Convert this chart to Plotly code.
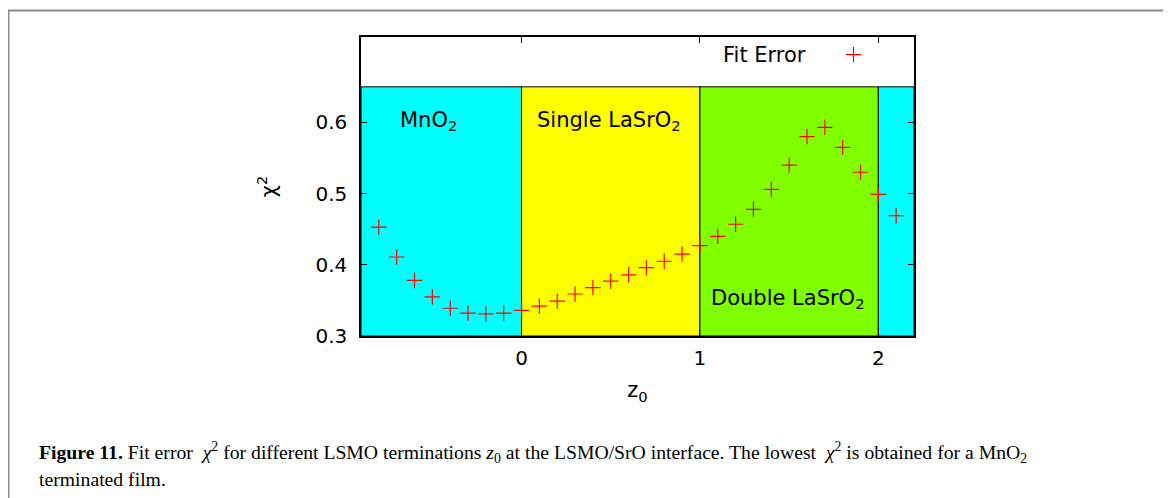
import plotly.graph_objects as go

# ---- data ----
z0 = [-0.8, -0.7, -0.6, -0.5, -0.4, -0.3, -0.2, -0.1, 0.0, 0.1, 0.2, 0.3, 0.4, 0.5, 0.6,
      0.7, 0.8, 0.9, 1.0, 1.1, 1.2, 1.3, 1.4, 1.5, 1.6, 1.7, 1.8, 1.9, 2.0, 2.1]
chi2 = [0.453, 0.411, 0.378, 0.355, 0.339, 0.332, 0.331, 0.332, 0.336, 0.342, 0.349,
        0.359, 0.368, 0.377, 0.386, 0.396, 0.405, 0.415, 0.427, 0.440, 0.457, 0.478,
        0.506, 0.540, 0.580, 0.593, 0.565, 0.530, 0.499, 0.469]

region_edges = [-0.9, 0.0, 1.0, 2.0, 2.2]
region_colors = ["#00FFFF", "#FFFF00", "#7FFF00", "#00FFFF"]
region_top = 0.65

x_ticks = [0, 1, 2]
y_ticks = [0.3, 0.4, 0.5, 0.6]

SANS = "DejaVu Sans, Liberation Sans, Arial, sans-serif"
SERIF = "Liberation Serif, Times New Roman, serif"

# page geometry (browser body has an 8px margin)
OFF = 8
W, H = 1171 - OFF, 498 - OFF
L, T = 361 - OFF, 37 - OFF
R = W - (914 - OFF)
B = H - (336 - OFF)
pw, ph = W - L - R, H - T - B
def px(x): return (x - OFF - L) / pw
def py(y): return (H - B - (y - OFF)) / ph

fig = go.Figure()
fig.add_trace(go.Scatter(
    x=z0, y=chi2, mode="markers", name=" ",
    marker=dict(symbol="cross-thin", size=11, color="red",
                line=dict(width=1.2, color="red")),
    showlegend=True,
))

shapes = []
for i, c in enumerate(region_colors):
    shapes.append(dict(type="rect", xref="x", yref="y",
                       x0=region_edges[i], x1=region_edges[i + 1],
                       y0=0.3, y1=region_top, fillcolor=c,
                       line=dict(color="black", width=1), layer="below"))

# outer journal box
shapes.append(dict(type="rect", xref="paper", yref="paper",
                   x0=px(8.5), x1=px(1165), y0=py(540), y1=py(10.5),
                   line=dict(color="#8a8a8a", width=2), fillcolor="rgba(0,0,0,0)",
                   layer="above"))

lab_font = dict(family=SANS, size=21, color="black")
annotations = [
    dict(x=-0.69, y=0.602, xref="x", yref="y", text="MnO<sub>2</sub>", showarrow=False,
         xanchor="left", yanchor="middle", font=lab_font),
    dict(x=0.073, y=0.602, xref="x", yref="y", text="Single LaSrO<sub>2</sub>", showarrow=False,
         xanchor="left", yanchor="middle", font=lab_font),
    dict(x=1.052, y=0.352, xref="x", yref="y", text="Double LaSrO<sub>2</sub>", showarrow=False,
         xanchor="left", yanchor="middle", font=lab_font),
    dict(x=px(37), y=py(452), xref="paper", yref="paper", xanchor="left", yanchor="middle",
         showarrow=False, align="left",
         text="<b>Figure 11.</b> Fit error  <i>χ</i><sup>2</sup> for different LSMO terminations "
              "<i>z</i><sub>0</sub> at the LSMO/SrO interface. The lowest  <i>χ</i><sup>2</sup> "
              "is obtained for a MnO<sub>2</sub>",
         font=dict(family=SERIF, size=19.7, color="black")),
    dict(x=px(37), y=py(479), xref="paper", yref="paper", xanchor="left", yanchor="middle",
         showarrow=False, align="left", text="terminated film.",
         font=dict(family=SERIF, size=19.7, color="black")),
]

fig.update_layout(
    width=W, height=H,
    margin=dict(l=L, r=R, t=T, b=B),
    paper_bgcolor="white", plot_bgcolor="white",
    shapes=shapes, annotations=annotations,
    font=dict(family=SANS, size=20, color="black"),
    legend=dict(x=px(721), y=py(55), xanchor="left", yanchor="middle",
                bgcolor="rgba(0,0,0,0)", borderwidth=0,
                title=dict(text="Fit Error\u00a0\u00a0\u00a0", side="left",
                           font=dict(family=SANS, size=21)),
                font=dict(family=SANS, size=21), itemwidth=30),
    xaxis=dict(range=[-0.9, 2.2], tickvals=x_ticks, ticks="inside", ticklen=6,
               tickcolor="black", showline=True, linecolor="black", linewidth=1.5,
               mirror="allticks", showgrid=False, zeroline=False,
               ticklabelstandoff=3,
               title=dict(text="z<sub>0</sub>", font=dict(family=SANS, size=21), standoff=14)),
    yaxis=dict(range=[0.3, 0.72], tickvals=y_ticks, tickformat=".1f", ticks="inside",
               ticklen=6, tickcolor="black", showline=True, linecolor="black", linewidth=1.5,
               mirror="allticks", showgrid=False, zeroline=False,
               ticklabelstandoff=8,
               title=dict(text="χ<sup>2</sup>", font=dict(family=SANS, size=21), standoff=33)),
)

fig.write_html("out.html")
